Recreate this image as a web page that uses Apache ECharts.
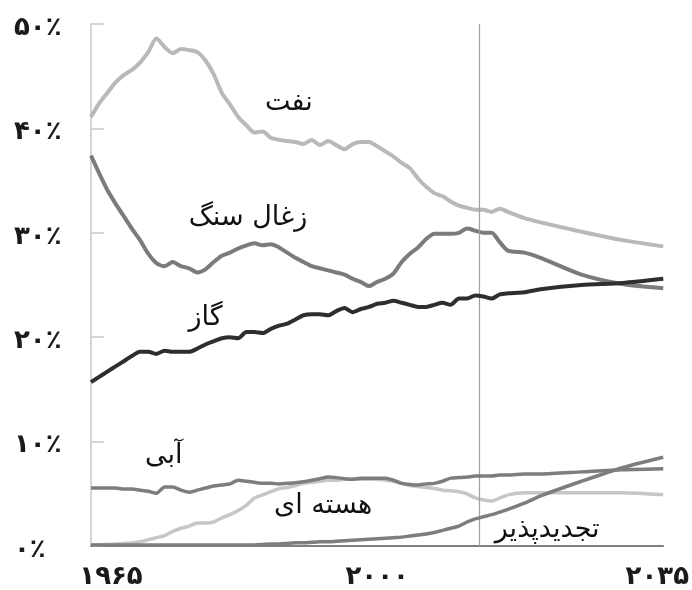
<!DOCTYPE html>
<html>
<head>
    <meta charset="utf-8">
    <title>سهم منابع انرژی</title>
    <script src="https://cdn.jsdelivr.net/npm/echarts@6/dist/echarts.min.js"></script>
    <style>
        body { margin: 0; background: #fff; }
    </style>
</head>
<body>
    <div id="main" style="width: 692px;height:590px;"></div>
    <script type="text/javascript">
        // سال ها (سالانه تا ۲۰۱۶، بعد پیش بینی)
        var years = [1965,1966,1967,1968,1969,1970,1971,1972,1973,1974,
                     1975,1976,1977,1978,1979,1980,1981,1982,1983,1984,
                     1985,1986,1987,1988,1989,1990,1991,1992,1993,1994,
                     1995,1996,1997,1998,1999,2000,2001,2002,2003,2004,
                     2005,2006,2007,2008,2009,2010,2011,2012,2013,2014,
                     2015,2016,2018,2020,2025,2030,2035];

        var oil = [41.1,42.4,43.4,44.4,45.1,45.6,46.3,47.3,48.6,47.8,
                   47.2,47.6,47.5,47.3,46.5,45.2,43.4,42.3,41.1,40.3,
                   39.6,39.7,39.1,38.9,38.8,38.7,38.5,38.9,38.4,38.8,
                   38.4,38.0,38.5,38.7,38.7,38.3,37.8,37.3,36.7,36.2,
                   35.2,34.4,33.8,33.5,33.0,32.6,32.4,32.2,32.2,32.0,
                   32.3,32.0,31.4,31.0,30.1,29.3,28.7];

        var coal = [37.4,35.7,34.1,32.8,31.6,30.4,29.3,28.0,27.1,26.8,
                    27.2,26.8,26.6,26.2,26.5,27.2,27.8,28.1,28.5,28.8,
                    29.0,28.8,28.9,28.6,28.1,27.6,27.2,26.8,26.6,26.4,
                    26.2,26.0,25.6,25.3,24.9,25.3,25.6,26.1,27.2,28.0,
                    28.6,29.4,29.9,29.9,29.9,30.0,30.4,30.2,30.0,30.0,
                    29.1,28.3,28.1,27.6,26.0,25.1,24.7];

        var gas = [15.7,16.2,16.7,17.2,17.7,18.2,18.6,18.6,18.4,18.7,
                   18.6,18.6,18.6,18.9,19.3,19.6,19.9,20.0,19.9,20.5,
                   20.5,20.4,20.8,21.1,21.3,21.7,22.1,22.2,22.2,22.1,
                   22.5,22.8,22.4,22.7,22.9,23.2,23.3,23.5,23.3,23.1,
                   22.9,22.9,23.1,23.3,23.1,23.7,23.7,24.0,23.9,23.7,
                   24.1,24.2,24.3,24.6,25.0,25.2,25.6];

        var hydro = [5.55,5.55,5.55,5.55,5.45,5.45,5.35,5.25,5.05,5.65,
                     5.65,5.35,5.15,5.35,5.55,5.75,5.85,5.95,6.3,6.2,
                     6.1,6.0,6.0,5.95,6.0,6.05,6.15,6.3,6.45,6.6,
                     6.55,6.45,6.4,6.5,6.5,6.5,6.5,6.3,6.0,5.9,
                     5.85,5.95,6.0,6.2,6.5,6.55,6.6,6.7,6.7,6.7,
                     6.8,6.8,6.9,6.9,7.1,7.3,7.4];

        var nuclear = [0.1,0.1,0.15,0.2,0.25,0.3,0.4,0.6,0.8,1.0,
                       1.4,1.7,1.9,2.2,2.2,2.3,2.7,3.0,3.4,3.9,
                       4.6,4.9,5.2,5.5,5.6,5.8,6.0,6.1,6.2,6.3,
                       6.3,6.4,6.4,6.4,6.4,6.4,6.3,6.2,6.0,5.8,
                       5.7,5.6,5.5,5.35,5.3,5.2,5.0,4.6,4.4,4.3,
                       4.6,4.9,5.1,5.1,5.1,5.1,4.9];

        var renewables = [0.1,0.1,0.1,0.1,0.1,0.1,0.1,0.1,0.1,0.1,
                          0.1,0.1,0.1,0.1,0.1,0.1,0.1,0.1,0.1,0.1,
                          0.1,0.15,0.2,0.2,0.25,0.3,0.3,0.35,0.4,0.4,
                          0.45,0.5,0.55,0.6,0.65,0.7,0.75,0.8,0.85,0.95,
                          1.05,1.15,1.3,1.5,1.7,1.9,2.3,2.6,2.8,3.0,
                          3.25,3.5,4.1,4.8,6.2,7.5,8.5];

        var xTicks = [1965, 2000, 2035];
        var forecastStart = 2012.5;

        // برچسب هر خط
        var names = ['نفت', 'زغال سنگ', 'گاز', 'آبی', 'هسته ای', 'تجدیدپذیر'];
        var labelYears = [1989.2, 1984.2, 1979.0, 1973.9, 1993.4, 2020.8];
        var labelValues = [42.4, 31.4, 21.8, 8.6, 3.8, 1.5];

        var FONT = 'DejaVu Sans';

        function fa(n) {
            return String(n).replace(/[0-9]/g, function (d) {
                return '۰۱۲۳۴۵۶۷۸۹'.charAt(+d);
            });
        }

        function pairs(arr) {
            return years.map(function (y, i) { return [y, arr[i]]; });
        }

        function line(idx, arr, color, width, z) {
            return {
                name: names[idx],
                type: 'line',
                data: pairs(arr),
                symbol: 'none',
                smooth: 0.25,
                z: z,
                lineStyle: { color: color, width: width },
                markPoint: {
                    symbol: 'circle',
                    symbolSize: 1,
                    itemStyle: { color: 'rgba(0,0,0,0)' },
                    label: {
                        show: true,
                        position: 'inside',
                        color: '#111',
                        fontFamily: FONT,
                        fontSize: 27,
                        formatter: names[idx]
                    },
                    data: [{ coord: [labelYears[idx], labelValues[idx]] }]
                }
            };
        }

        var myChart = echarts.init(document.getElementById('main'));

        var series = [
            line(4, nuclear, '#c6c6c6', 3.5, 2),
            line(0, oil, '#b9b9b9', 4, 3),
            line(1, coal, '#7b7b7b', 4, 4),
            line(3, hydro, '#7d7d7d', 3.5, 5),
            line(5, renewables, '#7d7d7d', 3.5, 6),
            line(2, gas, '#2e2e2e', 4, 7)
        ];
        // خط جداکننده پیش بینی
        series[0].markLine = {
            silent: true,
            symbol: 'none',
            label: { show: false },
            lineStyle: { color: '#a0a0a0', width: 1.2, type: 'solid' },
            data: [{ xAxis: forecastStart }]
        };

        var labelStyle = { fontFamily: FONT, fontSize: 26, fontWeight: 'bold', color: '#1a1a1a' };

        var option = {
            animation: false,
            backgroundColor: '#fff',
            grid: { left: 91, right: 25, top: 24, bottom: 44 },
            xAxis: {
                type: 'value',
                min: 1965,
                max: 2035,
                interval: 35,
                splitLine: { show: false },
                axisTick: { show: false },
                axisLine: { lineStyle: { color: '#555', width: 1.5 } },
                axisLabel: {
                    margin: 18,
                    color: '#1a1a1a',
                    fontFamily: FONT,
                    fontSize: 26,
                    fontWeight: 'bold',
                    formatter: function (v) {
                        if (v === xTicks[0]) return '{first|' + fa(v) + '}';
                        if (v === xTicks[2]) return '{last|' + fa(v) + '}';
                        return '{mid|' + fa(v) + '}';
                    },
                    rich: {
                        first: Object.assign({ padding: [0, 0, 0, 40] }, labelStyle),
                        mid: Object.assign({}, labelStyle),
                        last: Object.assign({ padding: [0, 12, 0, 0] }, labelStyle)
                    }
                }
            },
            yAxis: {
                type: 'value',
                min: 0,
                max: 50,
                interval: 10,
                splitLine: { show: false },
                axisLine: { show: true, lineStyle: { color: '#c8c8c8', width: 1.5 } },
                axisTick: { show: true, inside: true, length: 13, lineStyle: { color: '#c8c8c8', width: 1.5 } },
                axisLabel: {
                    margin: 77,
                    align: 'left',
                    formatter: function (v) { return '{y|' + fa(v) + '٪}'; },
                    rich: {
                        y: Object.assign({ padding: [8, 0, 0, 0] }, labelStyle)
                    }
                }
            },
            series: series
        };

        myChart.setOption(option);
    </script>
</body>
</html>
